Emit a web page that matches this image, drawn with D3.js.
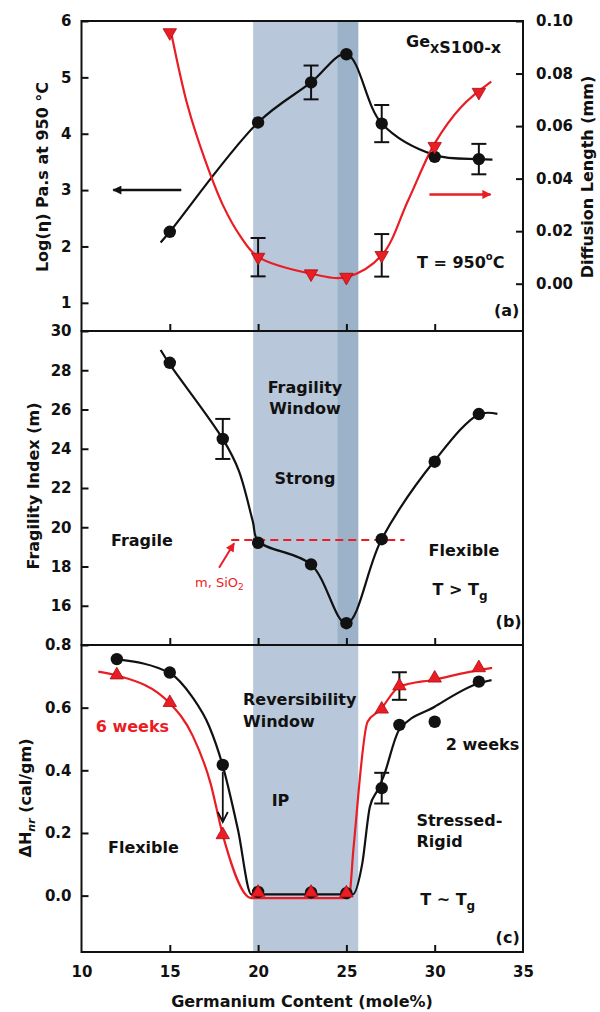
<!DOCTYPE html>
<html>
<head>
<meta charset="utf-8">
<script src="https://cdn.jsdelivr.net/npm/d3@7"></script>
<style>
  body { margin: 0; background: #fff; }
  svg text { font-family: "DejaVu Sans", sans-serif; font-weight: bold; fill: #111; }
  .tick text { font-size: 15px; }
  .tick line { stroke: #111; stroke-width: 2; }
</style>
</head>
<body>
<svg id="fig" width="600" height="1012"></svg>
<script>
// ---------- data ----------
const xTicks = [10, 15, 20, 25, 30, 35];

// (a) viscosity and diffusion length at 950 °C
const geA = [15, 20, 23, 25, 27, 30, 32.5];
const logViscosity = [2.26, 4.20, 4.91, 5.41, 4.18, 3.59, 3.55];
const logViscosityErr = [0, 0, 0.30, 0, 0.33, 0, 0.27];
const diffusionLength = [0.0956, 0.0101, 0.0038, 0.0025, 0.0108, 0.0523, 0.0729];
const diffusionErr = [0, 0.0073, 0, 0, 0.0081, 0, 0];
const viscosityTicks = [1, 2, 3, 4, 5, 6];
const diffusionTicks = [0, 0.02, 0.04, 0.06, 0.08, 0.10];
const viscosityFit = [[14.48, 2.07], [15, 2.26], [20, 4.20], [23, 4.91], [25, 5.41], [27, 4.18], [30, 3.62], [32.5, 3.55], [33.27, 3.54]];
const diffusionFit = [[15.05, 0.0965], [16, 0.068], [17, 0.047], [18, 0.030], [19, 0.018], [20, 0.0102], [23, 0.0038], [25, 0.0025], [27, 0.0108], [28.5, 0.0318], [30, 0.0534], [31.5, 0.0673], [33.2, 0.0769]];

// (b) fragility index
const geB = [15, 18, 20, 23, 25, 27, 30, 32.5];
const fragility = [28.38, 24.50, 19.21, 18.11, 15.11, 19.39, 23.34, 25.77];
const fragilityErr = [0, 1.02, 0, 0, 0, 0, 0, 0];
const fragilityTicks = [16, 18, 20, 22, 24, 26, 28, 30];
const fragilityFit = [[14.48, 29.03], [15, 28.3], [18, 24.5], [18.9, 22.9], [19.7, 20.3], [20, 19.3], [23, 18.1], [25, 15.1], [27, 19.4], [30, 23.4], [32.5, 25.75], [33.55, 25.78]];
const silicaFragility = 19.35;

// (c) non-reversing enthalpy after ageing
const geC = [12, 15, 18, 20, 23, 25, 27, 28, 30, 32.5];
const dHnr2weeks = [0.755, 0.712, 0.417, 0.012, 0.010, 0.008, 0.343, 0.545, 0.555, 0.683];
const dHnr2weeksErr = [0, 0, 0, 0, 0, 0, 0.049, 0, 0, 0];
const dHnr6weeks = [0.704, 0.616, 0.194, 0.010, 0.010, 0.008, 0.595, 0.669, 0.694, 0.727];
const dHnr6weeksErr = [0, 0, 0, 0, 0, 0, 0, 0.044, 0, 0];
const enthalpyTicks = [0, 0.2, 0.4, 0.6, 0.8];
const fit2weeks = [[12, 0.755], [15, 0.710], [16.26, 0.635], [17.24, 0.539], [18, 0.414], [18.86, 0.21], [19.62, 0.004], [25.36, 0.004], [25.9, 0.103], [26.33, 0.284], [26.77, 0.337], [27.1, 0.38], [28, 0.53], [30, 0.603], [32.5, 0.678], [33.22, 0.688]];
const fit6weeks = [[10.95, 0.715], [12, 0.703], [15, 0.614], [16.3, 0.51], [17.3, 0.36], [18, 0.194], [19.62, -0.008], [25.14, -0.008], [25.4, 0.15], [26.2, 0.555], [26.9, 0.592], [28, 0.667], [30, 0.690], [32.5, 0.720], [33.25, 0.727]];

// intermediate-phase windows (mole% Ge)
const windowBand = [19.72, 25.67];
const coreBand = [24.5, 25.67];

// ---------- layout ----------
const svg = d3.select("#fig");
const BLACK = "#111", RED = "#ea1c24";
const LIGHT = "#b8c8da", DARK = "#9cb2c9";

const x = d3.scaleLinear().domain([10, 35]).range([81.5, 523]);
const pA = { top: 21, bottom: 331 }, pB = { top: 331, bottom: 645 }, pC = { top: 645, bottom: 952 };
const yA = d3.scaleLinear().domain([0.5, 6]).range([pA.bottom, pA.top]);
const yR = d3.scaleLinear().domain([-0.018, 0.10]).range([pA.bottom, pA.top]);
const yB = d3.scaleLinear().domain([14, 30]).range([pB.bottom, pB.top]);
const yC = d3.scaleLinear().domain([-0.18, 0.8]).range([pC.bottom, pC.top]);

// arrowheads
const defs = svg.append("defs");
[["headBlack", BLACK], ["headRed", RED]].forEach(([id, c]) => {
  defs.append("marker").attr("id", id).attr("viewBox", "0 0 10 10")
    .attr("refX", 9).attr("refY", 5).attr("markerWidth", 11).attr("markerHeight", 9)
    .attr("markerUnits", "userSpaceOnUse").attr("orient", "auto")
    .append("path").attr("d", "M0,0 L10,5 L0,10 Z").attr("fill", c);
});

function bands(p, withCore) {
  svg.append("rect").attr("x", x(windowBand[0])).attr("width", x(windowBand[1]) - x(windowBand[0]))
    .attr("y", p.top).attr("height", p.bottom - p.top).attr("fill", LIGHT);
  if (withCore) {
    svg.append("rect").attr("x", x(coreBand[0])).attr("width", x(coreBand[1]) - x(coreBand[0]))
      .attr("y", p.top).attr("height", p.bottom - p.top).attr("fill", DARK);
  }
}
bands(pA, true); bands(pB, true); bands(pC, false);

function curve(pts, y, color, kind) {
  svg.append("path").datum(pts)
    .attr("d", d3.line().x(d => x(d[0])).y(d => y(d[1])).curve(kind))
    .attr("fill", "none").attr("stroke", color).attr("stroke-width", 2.2);
}
function errorBars(xs, ys, es, y) {
  const g = svg.append("g").attr("stroke", BLACK).attr("stroke-width", 2);
  xs.forEach((xv, i) => {
    if (!es[i]) return;
    const cx = x(xv), y0 = y(ys[i] - es[i]), y1 = y(ys[i] + es[i]);
    g.append("line").attr("x1", cx).attr("x2", cx).attr("y1", y0).attr("y2", y1);
    g.append("line").attr("x1", cx - 7.5).attr("x2", cx + 7.5).attr("y1", y0).attr("y2", y0);
    g.append("line").attr("x1", cx - 7.5).attr("x2", cx + 7.5).attr("y1", y1).attr("y2", y1);
  });
}
function circles(xs, ys, y) {
  svg.append("g").selectAll("circle").data(xs).join("circle")
    .attr("cx", d => x(d)).attr("cy", (d, i) => y(ys[i])).attr("r", 6.2).attr("fill", BLACK);
}
function triangles(xs, ys, y, down) {
  const sym = d3.symbol().type(d3.symbolTriangle).size(78);
  svg.append("g").selectAll("path").data(xs).join("path")
    .attr("d", sym)
    .attr("transform", (d, i) => `translate(${x(d)},${y(ys[i])})${down ? " rotate(180)" : ""}`)
    .attr("fill", RED).attr("stroke", "#a80f14").attr("stroke-width", 0.8);
}

// ---------- panel (a) ----------
curve(viscosityFit, yA, BLACK, d3.curveCatmullRom.alpha(0.5));
curve(diffusionFit, yR, RED, d3.curveCatmullRom.alpha(0.5));
errorBars(geA, logViscosity, logViscosityErr, yA);
errorBars(geA, diffusionLength, diffusionErr, yR);
circles(geA, logViscosity, yA);
triangles(geA, diffusionLength, yR, true);

// ---------- panel (b) ----------
svg.append("line").attr("x1", x(18.48)).attr("x2", x(28.29))
  .attr("y1", yB(silicaFragility)).attr("y2", yB(silicaFragility))
  .attr("stroke", RED).attr("stroke-width", 2).attr("stroke-dasharray", "8,5");
curve(fragilityFit, yB, BLACK, d3.curveCatmullRom.alpha(0.5));
errorBars(geB, fragility, fragilityErr, yB);
circles(geB, fragility, yB);

// ---------- panel (c) ----------
curve(fit2weeks, yC, BLACK, d3.curveMonotoneX);
curve(fit6weeks, yC, RED, d3.curveMonotoneX);
errorBars(geC, dHnr2weeks, dHnr2weeksErr, yC);
errorBars(geC, dHnr6weeks, dHnr6weeksErr, yC);
circles(geC, dHnr2weeks, yC);
triangles(geC, dHnr6weeks, yC, false);

// ageing arrow at 18 mole%: 2 weeks -> 6 weeks
(function () {
  const cx = x(18), yt = yC(0.395), yh = yC(0.235);
  svg.append("path").attr("d", `M${cx},${yt} L${cx},${yh} M${cx - 5},${yh - 10} L${cx},${yh} L${cx + 5},${yh - 10}`)
    .attr("fill", "none").attr("stroke", BLACK).attr("stroke-width", 1.8);
})();

// ---------- axes and frames ----------
function leftAxis(y, ticks, fmt) {
  const g = svg.append("g").attr("transform", `translate(${x(10)},0)`)
    .call(d3.axisLeft(y).tickValues(ticks).tickFormat(fmt).tickSizeInner(-7).tickSizeOuter(0).tickPadding(10));
  g.select(".domain").remove();
}
function bottomAxis(p, labels) {
  const g = svg.append("g").attr("transform", `translate(0,${p.bottom})`)
    .call(d3.axisBottom(x).tickValues(xTicks).tickFormat(labels ? d3.format("d") : () => "")
      .tickSizeInner(-7).tickSizeOuter(0).tickPadding(14));
  g.select(".domain").remove();
  g.selectAll(".tick").filter(d => d === 10 || d === 35).select("line").remove();
}
leftAxis(yA, viscosityTicks, d3.format("d"));
leftAxis(yB, fragilityTicks, d3.format("d"));
leftAxis(yC, enthalpyTicks, d3.format(".1f"));
{
  const g = svg.append("g").attr("transform", `translate(${x(35)},0)`)
    .call(d3.axisRight(yR).tickValues(diffusionTicks).tickFormat(d3.format(".2f"))
      .tickSizeInner(-7).tickSizeOuter(0).tickPadding(13));
  g.select(".domain").remove();
}
bottomAxis(pA, false); bottomAxis(pB, false); bottomAxis(pC, true);

[pA, pB, pC].forEach(p => {
  svg.append("rect").attr("x", x(10)).attr("y", p.top).attr("width", x(35) - x(10))
    .attr("height", p.bottom - p.top).attr("fill", "none").attr("stroke", BLACK).attr("stroke-width", 2);
});

// ---------- arrows ----------
svg.append("line").attr("x1", x(15.65)).attr("x2", x(11.8)).attr("y1", yA(3)).attr("y2", yA(3))
  .attr("stroke", BLACK).attr("stroke-width", 2.5).attr("marker-end", "url(#headBlack)");
svg.append("line").attr("x1", x(29.7)).attr("x2", x(33.16)).attr("y1", yR(0.034)).attr("y2", yR(0.034))
  .attr("stroke", RED).attr("stroke-width", 2.5).attr("marker-end", "url(#headRed)");
svg.append("line").attr("x1", x(17.79)).attr("y1", yB(17.94)).attr("x2", x(18.64)).attr("y2", yB(19.18))
  .attr("stroke", RED).attr("stroke-width", 2).attr("marker-end", "url(#headRed)");

// ---------- text ----------
function label(px, py, str, opts = {}) {
  const t = svg.append("text").attr("x", px).attr("y", py)
    .attr("text-anchor", opts.anchor || "start")
    .style("font-size", (opts.size || 16) + "px");
  if (opts.color) t.style("fill", opts.color);
  if (opts.normal) t.style("font-weight", "normal");
  if (str) t.text(str);
  return t;
}

// axis titles
label(0, 0, "Log(η) Pa.s at 950 °C", { anchor: "middle" })
  .attr("transform", "translate(42,177) rotate(-90)").attr("dy", "0.36em");
label(0, 0, "Diffusion Length (mm)", { anchor: "middle" })
  .attr("transform", "translate(587,177) rotate(-90)").attr("dy", "0.36em");
label(0, 0, "Fragility Index (m)", { anchor: "middle" })
  .attr("transform", "translate(33,486) rotate(-90)").attr("dy", "0.36em");
{
  const t = label(0, 0, null, { anchor: "middle" })
    .attr("transform", "translate(25,798) rotate(-90)").attr("dy", "0.36em");
  t.append("tspan").text("ΔH");
  t.append("tspan").text("nr").style("font-size", "11px").style("font-style", "italic").attr("dy", 4);
  t.append("tspan").text(" (cal/gm)").attr("dy", -4);
}
label(302, 1007, "Germanium Content (mole%)", { anchor: "middle" });

// panel (a) notes
{
  const t = label(406, 46.5, null);
  t.append("tspan").text("Ge");
  t.append("tspan").text("X").style("font-size", "12px").attr("dy", 6);
  t.append("tspan").text("S100-x");
}
{
  const t = label(417, 268, null);
  t.append("tspan").text("T = 950");
  t.append("tspan").text("o").style("font-size", "10px").attr("dy", -8);
  t.append("tspan").text("C").attr("dy", 8);
}
label(494, 316, "(a)");

// panel (b) notes
label(305, 392.5, "Fragility", { anchor: "middle" });
label(305, 413.5, "Window", { anchor: "middle" });
label(305, 484, "Strong", { anchor: "middle" });
label(111, 545.5, "Fragile");
label(428.6, 556, "Flexible");
{
  const t = label(432.5, 595, null);
  t.append("tspan").text("T > T");
  t.append("tspan").text("g").style("font-size", "12px").attr("dy", 5);
}
label(495.6, 627, "(b)");
{
  const t = label(195, 587, null, { size: 13, color: RED, normal: true });
  t.append("tspan").text("m, SiO");
  t.append("tspan").text("2").style("font-size", "9px").attr("dy", 3);
}

// panel (c) notes
label(243, 705, "Reversibility");
label(243, 726.7, "Window");
label(95.7, 732, "6 weeks", { color: RED });
label(445.8, 750, "2 weeks");
label(280.5, 806, "IP", { anchor: "middle" });
label(416.4, 826, "Stressed-");
label(416.4, 846.7, "Rigid");
label(108, 853, "Flexible");
{
  const t = label(420.2, 905, null);
  t.append("tspan").text("T ~ T");
  t.append("tspan").text("g").style("font-size", "12px").attr("dy", 5);
}
label(495.6, 943, "(c)");
</script>
</body>
</html>
